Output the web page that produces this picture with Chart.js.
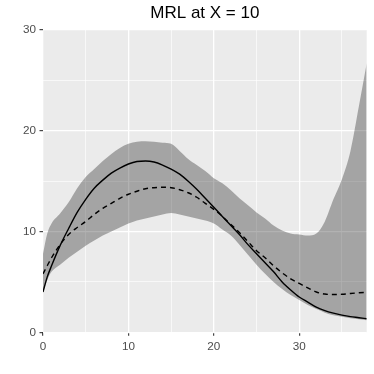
<!DOCTYPE html>
<html>
<head>
<meta charset="utf-8">
<title>MRL at X = 10</title>
<script src="https://cdn.jsdelivr.net/npm/chart.js@4.4.1/dist/chart.umd.min.js"></script>
<style>
  html, body { margin: 0; padding: 0; background: #fff; }
  #chart { display: block; }
</style>
</head>
<body>
<canvas id="chart" width="374" height="374"></canvas>
<script>
// Values
const xs = [0, 0.5, 1, 2, 3, 4, 5, 6, 7, 8, 9, 10, 11, 12, 13, 14, 15, 16, 17, 18, 19,
            20, 21, 22, 23, 24, 25, 26, 27, 28, 29, 30, 31, 32, 33, 34, 35, 36, 37, 37.9];

// grey band (upper / lower edge)
const upperBand = [7.8, 9.8, 10.8, 11.8, 12.9, 14.3, 15.4, 16.2, 17.0, 17.7, 18.3, 18.7, 18.9, 18.95, 18.9, 18.8, 18.7, 18.0, 17.2, 16.6, 16.0,
                   15.3, 14.8, 14.1, 13.3, 12.6, 11.9, 11.3, 10.6, 10.1, 9.8, 9.7, 9.6, 9.8, 11.0, 13.2, 15.2, 18.0, 22.5, 26.7];
const lowerBand = [4.0, 5.2, 6.0, 6.7, 7.4, 8.0, 8.6, 9.1, 9.6, 10.0, 10.4, 10.8, 11.1, 11.3, 11.5, 11.7, 11.85, 11.7, 11.5, 11.3, 11.1,
                   10.8, 10.2, 9.6, 8.7, 7.7, 6.7, 5.8, 5.0, 4.3, 3.7, 3.2, 2.7, 2.3, 1.95, 1.7, 1.55, 1.4, 1.3, 1.2];

// solid line
const solidLine = [4.0, 5.5, 6.6, 8.6, 10.3, 11.9, 13.2, 14.3, 15.1, 15.8, 16.3, 16.7, 16.95, 17.0, 16.9, 16.6, 16.2, 15.7, 15.0, 14.2, 13.3,
                   12.4, 11.5, 10.6, 9.7, 8.7, 7.8, 6.9, 6.0, 5.0, 4.2, 3.5, 3.0, 2.5, 2.15, 1.9, 1.7, 1.55, 1.45, 1.35];
// dashed line
const dashedLine = [5.8, 6.6, 7.4, 8.7, 9.7, 10.4, 11.0, 11.7, 12.3, 12.8, 13.3, 13.7, 14.0, 14.25, 14.35, 14.4, 14.35, 14.15, 13.85, 13.4, 12.8,
                    12.2, 11.5, 10.7, 9.9, 9.0, 8.1, 7.4, 6.6, 5.9, 5.3, 4.85, 4.4, 4.0, 3.8, 3.75, 3.77, 3.85, 3.92, 3.97];

const xTicks = [0, 5, 10, 15, 20, 25, 30, 35];
const yTicks = [0, 5, 10, 15, 20, 25, 30];
const xMax = 37.9;
const yMax = 30;

const toPoints = ys => xs.map((x, i) => ({ x: x, y: ys[i] }));
const isMajor = v => v % 10 === 0;

// ggplot-like grey panel behind the grid
const panelBg = {
    id: 'panelBg',
    beforeDraw(chart) {
        const a = chart.chartArea;
        const ctx = chart.ctx;
        ctx.save();
        ctx.fillStyle = '#EBEBEB';
        ctx.fillRect(a.left, a.top, a.right - a.left, a.bottom - a.top);
        ctx.restore();
    }
};

const fontFamily = "'Liberation Sans', Arial, Helvetica, sans-serif";

function axisOptions(ticksList, max, fitFn) {
    return {
        type: 'linear',
        min: 0,
        max: max,
        afterBuildTicks: (axis) => { axis.ticks = ticksList.map(v => ({ value: v })); },
        afterFit: fitFn,
        border: { display: false },
        grid: {
            color: '#FFFFFF',
            lineWidth: (c) => isMajor(c.tick.value) ? 1.3 : 0.65,
            tickColor: (c) => isMajor(c.tick.value) ? '#333333' : 'rgba(0,0,0,0)',
            tickLength: 3.5,
            tickWidth: 1.1
        },
        ticks: {
            autoSkip: false,
            maxRotation: 0,
            padding: 3.5,
            color: '#4D4D4D',
            font: { family: fontFamily, size: 11.7 },
            callback: (v) => isMajor(v) ? String(v) : ''
        }
    };
}

new Chart(document.getElementById('chart'), {
    type: 'line',
    data: {
        datasets: [
            {
                label: 'upper',
                data: toPoints(upperBand),
                borderColor: 'rgba(0,0,0,0)',
                borderWidth: 0,
                pointRadius: 0,
                cubicInterpolationMode: 'monotone',
                backgroundColor: 'rgba(0,0,0,0.3)',
                fill: '+1',
                order: 3
            },
            {
                label: 'lower',
                data: toPoints(lowerBand),
                borderColor: 'rgba(0,0,0,0)',
                borderWidth: 0,
                pointRadius: 0,
                cubicInterpolationMode: 'monotone',
                fill: false,
                order: 2
            },
            {
                label: 'solid',
                data: toPoints(solidLine),
                borderColor: '#000000',
                borderWidth: 1.4,
                pointRadius: 0,
                cubicInterpolationMode: 'monotone',
                fill: false,
                order: 0
            },
            {
                label: 'dashed',
                data: toPoints(dashedLine),
                borderColor: '#000000',
                borderWidth: 1.4,
                borderDash: [5, 4],
                pointRadius: 0,
                cubicInterpolationMode: 'monotone',
                fill: false,
                order: 1
            }
        ]
    },
    options: {
        responsive: false,
        animation: false,
        events: [],
        layout: { padding: { left: 0, right: 7.3, top: 0, bottom: 0 } },
        plugins: {
            legend: { display: false },
            tooltip: { enabled: false },
            title: {
                display: true,
                text: 'MRL at X = 10',
                fullSize: false,
                color: '#000000',
                font: { family: fontFamily, size: 17, weight: 'normal' },
                padding: { top: 3.5, bottom: 6.1 }
            }
        },
        scales: {
            x: axisOptions(xTicks, xMax, (s) => { s.height = 41.7; }),
            y: axisOptions(yTicks, yMax, (s) => { s.width = 43; })
        }
    },
    plugins: [panelBg]
});
</script>
</body>
</html>
